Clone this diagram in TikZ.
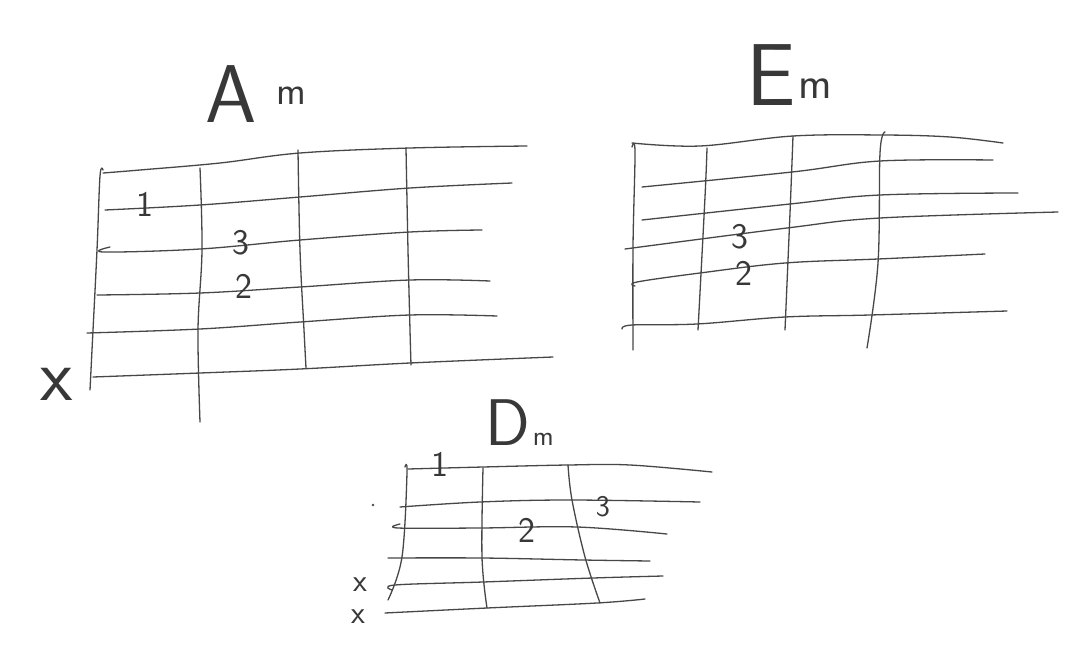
\documentclass[tikz,border=0pt]{standalone}
\usepackage{fontspec}
\usetikzlibrary{positioning}

\begin{document}
\begin{tikzpicture}[x=1pt, y=-1pt,
    string/.style={line width=1.3pt, draw=black!72, line cap=round, line join=round},
    fret/.style={string},
    chordname/.style={inner sep=0pt, anchor=base west, black!78, font=\sffamily},
    finger/.style={inner sep=0pt, black!78, font=\sffamily\fontsize{36}{36}\selectfont},
    mute/.style={inner sep=0pt, black!78, font=\sffamily\fontsize{32}{32}\selectfont}
  ]
    \fill[white] (0,0) rectangle (1082,656);
    \useasboundingbox (0,0) rectangle (1082,656);

    % Chord 1: Am
    \node[chordname] (am) at (205,122)
      {{\fontsize{82}{82}\selectfont A}\hspace{20pt}\raisebox{18pt}{\fontsize{40}{40}\selectfont m}};
    \draw[string] plot[smooth, tension=0.6] coordinates {(103,173) (140,170) (220,163) (300,153) (410,148) (527,146)};
    \draw[string] plot[smooth, tension=0.6] coordinates {(105,210) (200,205) (300,197) (410,188) (512,183)};
    \draw[string] plot[smooth, tension=0.6] coordinates {(110,247) (104,252) (200,249) (300,240) (410,232) (482,230)};
    \draw[string] plot[smooth, tension=0.6] coordinates {(97,295) (200,293) (300,287) (410,280) (490,281)};
    \draw[string] plot[smooth, tension=0.6] coordinates {(87,333) (200,329) (300,322) (410,315) (497,316)};
    \draw[string] plot[smooth, tension=0.6] coordinates {(93,377) (200,373) (300,369) (410,363) (553,357)};
    \draw[fret] plot[smooth, tension=0.6] coordinates {(103,170) (100,176) (97,250) (92,350) (90,390)};
    \draw[fret] plot[smooth, tension=0.6] coordinates {(200,168) (202,250) (198,330) (200,422)};
    \draw[fret] plot[smooth, tension=0.6] coordinates {(298,150) (300,250) (304,330) (306,368)};
    \draw[fret] plot[smooth, tension=0.6] coordinates {(406,148) (408,250) (410,330) (411,365)};
    \node[finger] (am1) at (145,204) {1};
    \node[finger] (am3) at (241,243) {3};
    \node[finger] (am2) at (244,286) {2};
    \node[mute, font=\sffamily\fontsize{75}{75}\selectfont] (amx) at (57,384) {x};

    % Chord 2: Em
    \node[chordname] (em) at (746,105)
      {{\fontsize{88}{88}\selectfont E}\hspace{3pt}\raisebox{7pt}{\fontsize{45}{45}\selectfont m}};
    \draw[string] plot[smooth, tension=0.6] coordinates {(632,143) (700,146) (793,136) (883,135) (950,137) (1003,143)};
    \draw[string] plot[smooth, tension=0.6] coordinates {(642,187) (792,172) (880,161) (993,160)};
    \draw[string] plot[smooth, tension=0.6] coordinates {(642,220) (790,204) (880,195) (1018,193)};
    \draw[string] plot[smooth, tension=0.6] coordinates {(625,249) (787,228) (880,218) (1058,212)};
    \draw[string] plot[smooth, tension=0.6] coordinates {(635,286) (637,282) (700,273) (785,263) (878,259) (985,254)};
    \draw[string] plot[smooth, tension=0.6] coordinates {(622,329) (632,325) (697,324) (785,317) (870,315) (1007,311)};
    \draw[fret] plot[smooth, tension=0.6] coordinates {(632,147) (635,152) (633,247) (633,350)};
    \draw[fret] plot[smooth, tension=0.6] coordinates {(707,148) (705,197) (698,330)};
    \draw[fret] plot[smooth, tension=0.6] coordinates {(793,136) (790,213) (785,330)};
    \draw[fret] plot[smooth, tension=0.6] coordinates {(885,132) (880,153) (878,263) (867,348)};
    \node[finger] (em3) at (740,237) {3};
    \node[finger] (em2) at (744,273) {2};

    % Chord 3: Dm
    \node[chordname] (dm) at (485,445)
      {{\fontsize{66}{66}\selectfont D}\hspace{3pt}{\fontsize{28}{28}\selectfont m}};
    \draw[string] plot[smooth, tension=0.6] coordinates {(408,469) (483,467) (568,465) (630,465) (712,472)};
    \draw[string] plot[smooth, tension=0.6] coordinates {(400,507) (480,502) (570,500) (700,502)};
    \draw[string] plot[smooth, tension=0.6] coordinates {(400,524) (398,528) (480,528) (577,527) (667,534)};
    \draw[string] plot[smooth, tension=0.6] coordinates {(388,558) (482,558) (583,560) (650,561)};
    \draw[string] plot[smooth, tension=0.6] coordinates {(392,590) (395,585) (483,582) (593,578) (663,576)};
    \draw[string] plot[smooth, tension=0.6] coordinates {(385,613) (487,608) (597,603) (645,599)};
    \draw[fret] plot[smooth, tension=0.6] coordinates {(405,467) (407,473) (402,557) (388,600)};
    \draw[fret] plot[smooth, tension=0.6] coordinates {(483,468) (482,557) (487,608)};
    \draw[fret] plot[smooth, tension=0.6] coordinates {(568,465) (572,500) (585,557) (600,603)};
    \node[finger] (dm1) at (440,464) {1};
    \node[finger, font=\sffamily\fontsize{30}{30}\selectfont] (dm3) at (603,507) {3};
    \node[finger] (dm2) at (527,530) {2};
    \node[mute] (dmx1) at (360,585) {x};
    \node[mute] (dmx2) at (358,617) {x};
    \fill[black!72] (373,505) circle (1.3);
\end{tikzpicture}
\end{document}
